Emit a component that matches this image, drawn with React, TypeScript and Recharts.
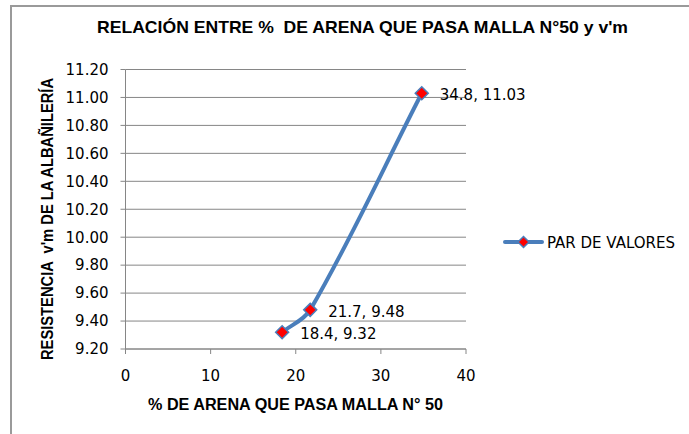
import React from 'react';
import {
  LineChart,
  Line,
  XAxis,
  YAxis,
  CartesianGrid,
  Legend,
  LabelList,
  Label,
  Customized,
} from 'recharts';

// Ensayos: porcentaje de arena que pasa la malla N°50 vs. resistencia v'm
const porcentajeArena = [18.4, 21.7, 34.8];
const resistenciaVm = [9.32, 9.48, 11.03];

const xTicks = [0, 10, 20, 30, 40];
const yTicks = [9.2, 9.4, 9.6, 9.8, 10.0, 10.2, 10.4, 10.6, 10.8, 11.0, 11.2];

const titulo = "RELACIÓN ENTRE %  DE ARENA QUE PASA MALLA N°50 y v'm";
const tituloX = '% DE ARENA QUE PASA MALLA N° 50';
const tituloY = "RESISTENCIA  v'm DE LA ALBAÑILERÍA";
const nombreSerie = 'PAR DE VALORES';

const datos = porcentajeArena.map((x, i) => ({
  x,
  y: resistenciaVm[i],
  etiqueta: `${x.toFixed(1)}, ${resistenciaVm[i].toFixed(2)}`,
}));

const AZUL = '#4A7EBB';
const ROJO = '#FF0000';
const GRIS = '#868686';
const FUENTE = '"DejaVu Sans", sans-serif';
const FUENTE_NEGRITA = '"Liberation Sans", Arial, sans-serif';

// Curva suavizada tipo hoja de cálculo: Bézier de Catmull-Rom cuyos
// brazos de control se escalan con la longitud de cada tramo.
function curvaSuavizada(context: any) {
  let pts: [number, number][] = [];
  const dist = (a: [number, number], b: [number, number]) =>
    Math.hypot(b[0] - a[0], b[1] - a[1]);
  return {
    areaStart() {},
    areaEnd() {},
    lineStart() {
      pts = [];
    },
    point(x: number, y: number) {
      pts.push([+x, +y]);
    },
    lineEnd() {
      const n = pts.length;
      if (n === 0) return;
      context.moveTo(pts[0][0], pts[0][1]);
      for (let i = 0; i < n - 1; i++) {
        const p0 = pts[Math.max(0, i - 1)];
        const p1 = pts[i];
        const p2 = pts[i + 1];
        const p3 = pts[Math.min(n - 1, i + 2)];
        const d0 = dist(p0, p1);
        const d1 = dist(p1, p2);
        const d2 = dist(p2, p3);
        const f1 = d0 + d1 > 0 ? d1 / (d0 + d1) / 3 : 0;
        const f2 = d1 + d2 > 0 ? d1 / (d1 + d2) / 3 : 0;
        context.bezierCurveTo(
          p1[0] + (p2[0] - p0[0]) * f1,
          p1[1] + (p2[1] - p0[1]) * f1,
          p2[0] - (p3[0] - p1[0]) * f2,
          p2[1] - (p3[1] - p1[1]) * f2,
          p2[0],
          p2[1]
        );
      }
    },
  };
}

const rombo = (cx: number, cy: number, r: number) =>
  `M${cx},${cy - r}L${cx + r},${cy}L${cx},${cy + r}L${cx - r},${cy}Z`;

const Marcador = (props: any) => {
  const { cx, cy } = props;
  if (cx == null || cy == null) return null;
  return (
    <path
      key={`m-${props.index}`}
      d={rombo(cx, cy, 6.5)}
      fill={ROJO}
      stroke={AZUL}
      strokeWidth={1.5}
    />
  );
};

const Etiqueta = (props: any) => {
  const x = Number(props.x ?? props.viewBox?.x);
  const y = Number(props.y ?? props.viewBox?.y);
  return (
    <text x={x + 18} y={y + 7} fill="#000" fontFamily={FUENTE} fontSize={15}>
      {props.value}
    </text>
  );
};

const Leyenda = () => (
  <svg width={190} height={20} style={{ display: 'block', overflow: 'visible' }}>
    <line x1={3} y1={10} x2={40} y2={10} stroke={AZUL} strokeWidth={4} strokeLinecap="round" />
    <path d={rombo(21.5, 10, 5.5)} fill={ROJO} stroke={AZUL} strokeWidth={1.5} />
    <text x={45} y={15.5} fill="#000" fontFamily={FUENTE} fontSize={15}>
      {nombreSerie}
    </text>
  </svg>
);

const Titulo = () => (
  <text
    x={362.5}
    y={33}
    textAnchor="middle"
    fontFamily={FUENTE_NEGRITA}
    fontWeight="bold"
    fontSize={17}
    fill="#000"
    textLength={531}
    lengthAdjust="spacingAndGlyphs"
    style={{ whiteSpace: 'pre' }}
  >
    {titulo}
  </text>
);

export default function App() {
  return (
    <div
      style={{
        position: 'absolute',
        left: 0,
        top: 0,
        width: 689,
        height: 434,
        overflow: 'hidden',
        background: '#fff',
      }}
    >
      <div
        style={{
          position: 'absolute',
          left: 10,
          top: 5,
          width: 720,
          height: 480,
          border: `2px solid #9a9a9a`,
          boxSizing: 'border-box',
        }}
      />
      <div style={{ position: 'absolute', left: 0, top: 0 }}>
        <LineChart
          width={689}
          height={434}
          data={datos}
          margin={{ top: 69.5, right: 223, bottom: 55, left: 25.5 }}
        >
          <CartesianGrid vertical={false} stroke={GRIS} strokeWidth={1} />
          <XAxis
            dataKey="x"
            type="number"
            domain={[0, 40]}
            ticks={xTicks}
            interval={0}
            height={30}
            tickSize={5}
            tickMargin={16}
            axisLine={{ stroke: GRIS }}
            tickLine={{ stroke: GRIS }}
            tick={{ fill: '#000', fontSize: 15, fontFamily: FUENTE }}
          >
            <Label
              content={() => (
                <text
                  x={295.5}
                  y={410}
                  textAnchor="middle"
                  fontFamily={FUENTE_NEGRITA}
                  fontWeight="bold"
                  fontSize={16}
                  fill="#000"
                  textLength={295}
                  lengthAdjust="spacingAndGlyphs"
                >
                  {tituloX}
                </text>
              )}
            />
          </XAxis>
          <YAxis
            type="number"
            domain={[9.2, 11.2]}
            ticks={yTicks}
            interval={0}
            width={100}
            tickSize={5}
            tickMargin={12}
            axisLine={{ stroke: GRIS }}
            tickLine={{ stroke: GRIS }}
            tickFormatter={(v: number) => v.toFixed(2)}
            tick={{ fill: '#000', fontSize: 15, fontFamily: FUENTE }}
          >
            <Label
              content={() => (
                <text
                  x={53}
                  y={219}
                  transform="rotate(-90, 53, 219)"
                  textAnchor="middle"
                  fontFamily={FUENTE_NEGRITA}
                  fontWeight="bold"
                  fontSize={16}
                  fill="#000"
                  textLength={282}
                  lengthAdjust="spacingAndGlyphs"
                  style={{ whiteSpace: 'pre' }}
                >
                  {tituloY}
                </text>
              )}
            />
          </YAxis>
          <Legend
            layout="horizontal"
            align="center"
            verticalAlign="middle"
            wrapperStyle={{ position: 'absolute', left: 502, top: 232, width: 190, height: 20 }}
            content={() => <Leyenda />}
          />
          <Line
            type={curvaSuavizada as any}
            dataKey="y"
            name={nombreSerie}
            stroke={AZUL}
            strokeWidth={4}
            dot={Marcador}
            activeDot={false}
            isAnimationActive={false}
          >
            <LabelList dataKey="etiqueta" content={Etiqueta} />
          </Line>
          <Customized component={Titulo} />
        </LineChart>
      </div>
    </div>
  );
}
